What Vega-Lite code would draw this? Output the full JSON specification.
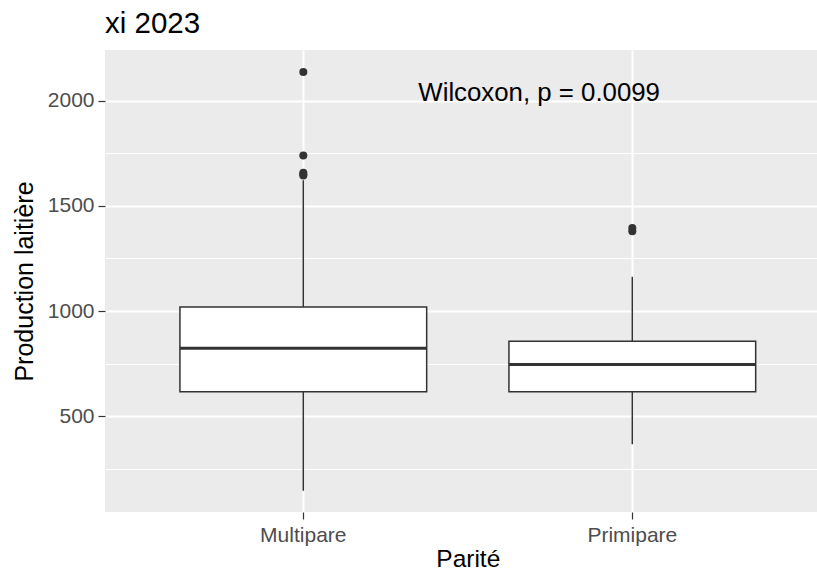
{
  "$schema": "https://vega.github.io/schema/vega-lite/v6.json",
  "width": 712,
  "height": 462,
  "autosize": {"type": "none"},
  "padding": {"left": 105, "top": 50, "right": 0, "bottom": 60},
  "background": "white",
  "title": {"text": "xi 2023", "anchor": "start", "frame": "group", "fontSize": 29.5, "fontWeight": "normal", "color": "#000000", "baseline": "alphabetic", "offset": 17, "dy": 29},
  "config": {"font": "Liberation Sans", "view": {"fill": "#EBEBEB", "stroke": null}},
  "datasets": {
    "boxes": [
      {"parite": "Multipare", "lower": 146, "q1": 616, "median": 823, "q3": 1020, "upper": 1622},
      {"parite": "Primipare", "lower": 367, "q1": 616, "median": 746, "q3": 857, "upper": 1163}
    ],
    "outliers": [
      {"parite": "Multipare", "value": 2137},
      {"parite": "Multipare", "value": 1739},
      {"parite": "Multipare", "value": 1657},
      {"parite": "Multipare", "value": 1650},
      {"parite": "Multipare", "value": 1645},
      {"parite": "Primipare", "value": 1395},
      {"parite": "Primipare", "value": 1380}
    ],
    "label": [
      {"parite": "Primipare", "value": 2035, "text": "Wilcoxon, p = 0.0099"}
    ]
  },
  "resolve": {"axis": {"y": "independent"}},
  "layer": [
    {
      "data": {"name": "boxes"},
      "mark": {"type": "rule", "color": "#333333", "strokeWidth": 1.5},
      "encoding": {
        "x": {
          "field": "parite", "type": "nominal",
          "scale": {"paddingInner": 0, "paddingOuter": 0.0821, "align": 0.626},
          "axis": {"bandPosition": 0.5, "grid": true, "gridColor": "white", "gridWidth": 2, "tickColor": "#333333", "tickSize": 7, "tickWidth": 1.2, "domain": false, "labelAngle": 0, "labelFontSize": 21, "labelColor": "#4D4D4D", "labelPadding": 5, "title": "Parité", "titleFontSize": 24.5, "titleFontWeight": "normal", "titleColor": "#000000", "titlePadding": 2, "titleX": 362.8}
        },
        "y": {
          "field": "lower", "type": "quantitative",
          "scale": {"domain": [45, 2241], "nice": false, "zero": false},
          "axis": {"orient": "right", "values": [250, 750, 1250, 1750], "grid": true, "gridColor": "white", "gridWidth": 1.1, "labels": false, "ticks": false, "domain": false, "title": null}
        },
        "y2": {"field": "upper"}
      }
    },
    {
      "data": {"name": "boxes"},
      "mark": {"type": "bar", "fill": "white", "stroke": "#333333", "strokeWidth": 1.5, "width": {"band": 0.75}},
      "encoding": {
        "x": {"field": "parite", "type": "nominal"},
        "y": {
          "field": "q1", "type": "quantitative",
          "axis": {"values": [500, 1000, 1500, 2000], "format": "d", "grid": true, "gridColor": "white", "gridWidth": 2, "tickColor": "#333333", "tickSize": 7, "tickWidth": 1.2, "domain": false, "labelFontSize": 21, "labelColor": "#4D4D4D", "labelPadding": 4, "title": "Production laitière", "titleFontSize": 25, "titleFontWeight": "normal", "titleColor": "#000000", "titlePadding": 10}
        },
        "y2": {"field": "q3"}
      }
    },
    {
      "data": {"name": "boxes"},
      "mark": {"type": "tick", "color": "#333333", "thickness": 3, "size": 246.7, "orient": "horizontal", "opacity": 1},
      "encoding": {
        "x": {"field": "parite", "type": "nominal"},
        "y": {"field": "median", "type": "quantitative", "axis": null}
      }
    },
    {
      "data": {"name": "outliers"},
      "mark": {"type": "point", "filled": true, "color": "#333333", "size": 64, "opacity": 1},
      "encoding": {
        "x": {"field": "parite", "type": "nominal"},
        "y": {"field": "value", "type": "quantitative", "axis": null}
      }
    },
    {
      "data": {"name": "label"},
      "mark": {"type": "text", "align": "left", "baseline": "middle", "dx": -214, "fontSize": 25.8, "color": "#000000"},
      "encoding": {
        "x": {"field": "parite", "type": "nominal"},
        "y": {"field": "value", "type": "quantitative", "axis": null},
        "text": {"field": "text"}
      }
    }
  ]
}
